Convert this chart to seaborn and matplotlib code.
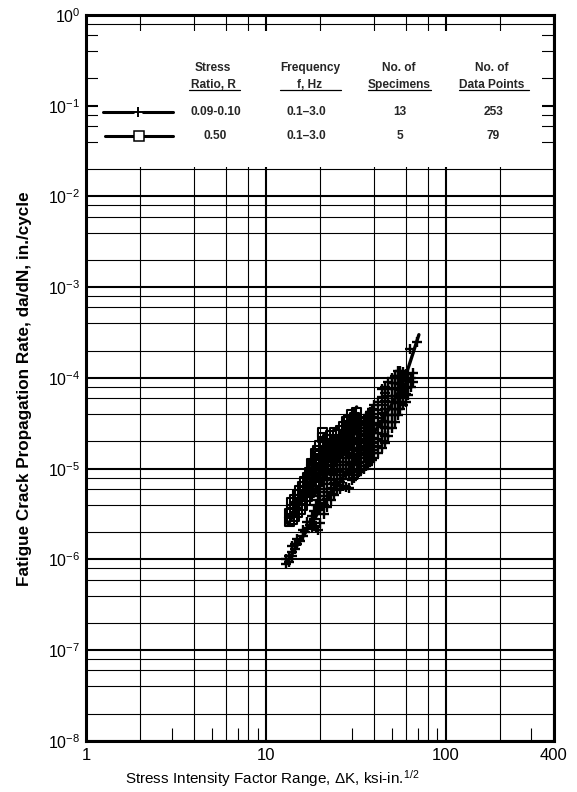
import matplotlib
matplotlib.use("Agg")
import matplotlib.pyplot as plt
import pandas as pd
import seaborn as sns
from matplotlib.patches import Rectangle
from matplotlib.lines import Line2D
from matplotlib.ticker import FixedLocator, FixedFormatter, NullFormatter, LogFormatterSciNotation

# R = 0.09-0.10 points (plus markers):
# one delta-K value and the crack rates plotted at it
k_r01 = [13.0, 13.5, 14.0, 14.5, 15.0, 15.5, 16.0, 16.5, 17.0, 17.5,
         18.0, 18.5, 19.0, 19.5, 20.0, 21.0, 22.0, 23.0, 24.0, 25.0,
         26.0, 27.0, 28.0, 29.0, 30.0, 31.0, 32.0, 33.0, 34.0, 35.0,
         36.0, 37.0, 38.0, 39.0, 40.0, 42.0, 44.0, 46.0, 48.0, 50.0,
         52.0, 54.0, 56.0, 58.0, 60.0, 62.0, 63.0, 64.0, 66.0, 69.0]
rate_r01 = [
    [9.0e-7, 1.0e-6], [1.1e-6, 9.5e-7], [1.2e-6, 1.4e-6, 1.1e-6], [1.3e-6, 1.5e-6], [1.5e-6, 1.7e-6],
    [1.6e-6], [1.8e-6, 2.1e-6], [2.0e-6], [2.2e-6, 2.6e-6], [2.4e-6],
    [2.6e-6, 3.0e-6, 2.2e-6], [2.8e-6, 3.4e-6], [2.3e-6, 3.2e-6, 4.0e-6], [2.1e-6, 3.6e-6, 4.5e-6, 5.5e-6],
    [2.5e-6, 3.5e-6, 4.2e-6, 5.0e-6, 6.5e-6, 8.0e-6],
    [3.2e-6, 4.0e-6, 5.0e-6, 6.0e-6, 7.5e-6, 9.0e-6, 1.1e-5],
    [3.8e-6, 4.6e-6, 5.5e-6, 6.8e-6, 8.0e-6, 1.0e-5, 1.2e-5],
    [4.5e-6, 5.3e-6, 6.2e-6, 7.5e-6, 9.0e-6, 1.1e-5, 1.35e-5],
    [5.2e-6, 6.0e-6, 7.0e-6, 8.5e-6, 1.0e-5, 1.2e-5, 1.5e-5, 1.8e-5],
    [5.8e-6, 6.6e-6, 7.8e-6, 9.5e-6, 1.1e-5, 1.35e-5, 1.6e-5, 2.0e-5],
    [6.0e-6, 7.2e-6, 8.5e-6, 1.0e-5, 1.2e-5, 1.45e-5, 1.75e-5, 2.1e-5],
    [6.5e-6, 7.8e-6, 9.2e-6, 1.1e-5, 1.3e-5, 1.55e-5, 1.9e-5, 2.3e-5],
    [6.3e-6, 8.5e-6, 1.0e-5, 1.2e-5, 1.4e-5, 1.7e-5, 2.0e-5, 2.5e-5],
    [6.2e-6, 9.0e-6, 1.1e-5, 1.3e-5, 1.5e-5, 1.8e-5, 2.2e-5, 2.7e-5],
    [7.5e-6, 9.5e-6, 1.15e-5, 1.35e-5, 1.6e-5, 1.95e-5, 2.4e-5, 2.9e-5],
    [8.0e-6, 1.0e-5, 1.2e-5, 1.45e-5, 1.7e-5, 2.1e-5, 2.6e-5, 3.2e-5],
    [8.6e-6, 1.1e-5, 1.3e-5, 1.55e-5, 1.85e-5, 2.2e-5, 2.8e-5, 3.5e-5],
    [9.2e-6, 1.15e-5, 1.4e-5, 1.65e-5, 2.0e-5, 2.4e-5, 3.0e-5, 3.6e-5],
    [9.8e-6, 1.2e-5, 1.5e-5, 1.8e-5, 2.1e-5, 2.6e-5, 3.2e-5],
    [1.0e-5, 1.3e-5, 1.6e-5, 1.9e-5, 2.3e-5, 2.8e-5, 3.4e-5],
    [1.07e-5, 1.18e-5, 1.4e-5, 1.7e-5, 2.0e-5, 2.4e-5, 3.0e-5, 3.7e-5],
    [1.1e-5, 1.3e-5, 1.5e-5, 1.8e-5, 2.2e-5, 2.6e-5, 3.2e-5, 3.9e-5],
    [1.2e-5, 1.4e-5, 1.6e-5, 1.9e-5, 2.3e-5, 2.8e-5, 3.4e-5, 4.2e-5],
    [1.25e-5, 1.5e-5, 1.75e-5, 2.1e-5, 2.5e-5, 3.0e-5, 3.7e-5, 4.5e-5],
    [1.3e-5, 1.6e-5, 1.9e-5, 2.2e-5, 2.7e-5, 3.2e-5, 4.0e-5, 5.0e-5],
    [1.5e-5, 1.8e-5, 2.1e-5, 2.5e-5, 3.0e-5, 3.6e-5, 4.4e-5, 5.5e-5],
    [1.7e-5, 2.0e-5, 2.4e-5, 2.9e-5, 3.4e-5, 4.1e-5, 5.0e-5, 6.2e-5, 7.5e-5],
    [1.9e-5, 2.3e-5, 2.8e-5, 3.3e-5, 3.9e-5, 4.6e-5, 5.6e-5, 6.8e-5, 8.0e-5],
    [2.3e-5, 2.8e-5, 3.3e-5, 3.9e-5, 4.6e-5, 5.4e-5, 6.4e-5, 7.6e-5, 9.0e-5],
    [2.8e-5, 3.3e-5, 3.9e-5, 4.6e-5, 5.4e-5, 6.4e-5, 7.5e-5, 8.8e-5, 1.0e-4],
    [3.3e-5, 3.9e-5, 4.6e-5, 5.4e-5, 6.4e-5, 7.5e-5, 8.8e-5, 1.05e-4],
    [3.9e-5, 4.6e-5, 5.4e-5, 6.4e-5, 7.5e-5, 8.8e-5, 1.05e-4, 1.2e-4],
    [4.5e-5, 5.3e-5, 6.2e-5, 7.3e-5, 8.6e-5, 1.0e-4, 1.2e-4],
    [5.0e-5, 6.0e-5, 7.0e-5, 8.3e-5, 9.8e-5, 1.15e-4],
    [5.5e-5, 6.6e-5, 7.8e-5, 9.2e-5, 1.1e-4],
    [6.5e-5, 8.0e-5, 9.5e-5, 1.1e-4],
    [2.1e-4],
    [8.0e-5, 1.0e-4],
    [9.0e-5, 1.13e-4],
    [2.5e-4],
]

# R = 0.50 points (open squares), same layout
k_r05 = [13.5, 14.0, 14.5, 15.0, 15.5, 16.0, 16.5, 17.0, 17.5, 18.0,
         18.5, 19.0, 19.5, 20.0, 20.7, 21.0, 22.0, 23.0, 24.0, 25.0,
         26.0, 27.0, 28.0, 29.0, 30.0, 31.0, 32.0]
rate_r05 = [
    [2.6e-6, 3.2e-6], [2.8e-6, 3.5e-6, 4.2e-6], [3.0e-6, 3.8e-6, 4.6e-6], [3.3e-6, 4.2e-6, 5.2e-6],
    [3.6e-6, 4.6e-6, 5.8e-6], [4.0e-6, 5.0e-6, 6.4e-6], [4.5e-6, 5.6e-6, 7.2e-6], [5.0e-6, 6.3e-6, 8.0e-6],
    [5.5e-6, 7.0e-6, 9.0e-6], [6.0e-6, 7.8e-6, 1.0e-5, 1.15e-5], [6.5e-6, 8.5e-6, 1.1e-5],
    [7.2e-6, 9.3e-6, 1.2e-5, 1.45e-5], [8.0e-6, 1.0e-5, 1.3e-5, 1.6e-5], [8.5e-6, 1.1e-5, 1.4e-5, 1.8e-5],
    [2.5e-5, 2.2e-5], [9.5e-6, 1.2e-5, 1.55e-5, 1.9e-5], [1.05e-5, 1.35e-5, 1.7e-5, 2.1e-5],
    [1.2e-5, 1.5e-5, 1.9e-5, 2.3e-5], [1.35e-5, 1.7e-5, 2.1e-5, 2.5e-5], [1.5e-5, 1.9e-5, 2.4e-5],
    [1.7e-5, 2.1e-5, 2.6e-5], [1.9e-5, 2.4e-5, 2.9e-5], [2.1e-5, 2.7e-5, 3.3e-5],
    [2.4e-5, 3.0e-5, 3.5e-5], [2.7e-5, 3.3e-5, 3.9e-5], [3.0e-5, 3.7e-5], [3.4e-5, 4.1e-5],
]

# mean curves
fit_k_r01 = [13.0, 15.0, 19.4, 25.0, 32.0, 40.0, 47.0, 53.0, 58.0, 62.0, 66.0, 71.0]
fit_rate_r01 = [9.0e-7, 1.45e-6, 3.2e-6, 6.6e-6, 1.33e-5, 2.5e-5, 4.1e-5, 6.2e-5, 9.0e-5, 1.3e-4, 1.9e-4, 3.0e-4]
fit_k_r05 = [13.4, 32.0]
fit_rate_r05 = [2.5e-6, 4.8e-5]

# axis ticks / grid
x_major = [1, 10, 100, 400]
x_major_labels = ["1", "10", "100", "400"]
x_grid_minor = [2, 4, 6, 8, 20, 40, 60, 80, 200]
x_tick_odd = [3, 5, 7, 9, 30, 50, 70, 90, 300]
y_major = [10.0 ** e for e in range(-8, 1)]
y_grid_minor = [m * 10.0 ** e for e in range(-8, 0) for m in (2, 4, 6, 8)]

# legend table
header_top = ["Stress", "Frequency", "No. of", "No. of"]
header_bot = ["Ratio, R", "f, Hz", "Specimens", "Data Points"]
row_r01 = ["0.09-0.10", "0.1\u20133.0", "13", "253"]
row_r05 = ["0.50", "0.1\u20133.0", "5", "79"]


def to_frame(ks, rate_cols):
    rows = [(k, r) for k, col in zip(ks, rate_cols) for r in col]
    return pd.DataFrame(rows, columns=["K", "rate"])


sns.set_theme(style="white")
plt.rcParams["font.family"] = ["Liberation Sans", "DejaVu Sans"]
plt.rcParams["mathtext.fontset"] = "custom"
plt.rcParams["mathtext.rm"] = "Liberation Sans"
plt.rcParams["mathtext.it"] = "Liberation Sans:italic"
plt.rcParams["mathtext.bf"] = "Liberation Sans:bold"

fig = plt.figure(figsize=(5.77, 7.92), dpi=100)
ax = fig.add_axes([0.149, 0.0644, 0.811, 0.9167])

df01 = to_frame(k_r01, rate_r01)
df05 = to_frame(k_r05, rate_r05)

sns.scatterplot(data=df01, x="K", y="rate", marker="+", s=60, color="black",
                linewidth=1.7, ax=ax, zorder=3)
sns.scatterplot(data=df05, x="K", y="rate", marker="s", s=45, color="black",
                facecolor="none", edgecolor="black", linewidth=1.5, ax=ax, zorder=3)
sns.lineplot(x=fit_k_r01, y=fit_rate_r01, color="black", lw=2.4, sort=False,
             estimator=None, ax=ax, zorder=4)
sns.lineplot(x=fit_k_r05, y=fit_rate_r05, color="black", lw=2.4, sort=False,
             estimator=None, ax=ax, zorder=4)

ax.set_xscale("log")
ax.set_yscale("log")
ax.set_xlim(1, 400)
ax.set_ylim(1e-8, 1)

ax.xaxis.set_major_locator(FixedLocator(x_major))
ax.xaxis.set_major_formatter(FixedFormatter(x_major_labels))
ax.xaxis.set_minor_locator(FixedLocator(x_grid_minor))
ax.xaxis.set_minor_formatter(NullFormatter())
ax.yaxis.set_major_locator(FixedLocator(y_major))
ax.yaxis.set_major_formatter(LogFormatterSciNotation())
ax.yaxis.set_minor_locator(FixedLocator(y_grid_minor))
ax.yaxis.set_minor_formatter(NullFormatter())

ax.set_axisbelow(True)
ax.grid(which="major", color="black", lw=1.5)
ax.grid(which="minor", color="black", lw=0.8)
ax.tick_params(which="both", length=0, colors="black")
ax.tick_params(axis="x", pad=5, labelsize=12)
ax.tick_params(axis="y", pad=4, labelsize=11.5)

# short ticks along the bottom edge
ax.vlines(x_tick_odd, 0, 0.018, transform=ax.get_xaxis_transform(),
          color="black", lw=0.8, zorder=1.5)

for side in ax.spines.values():
    side.set_linewidth(2.2)
    side.set_color("black")
    side.set_zorder(5)

# white panel holding the legend table
ax.add_patch(Rectangle((0.0256, 0.7906), 0.9488, 0.1874, transform=ax.transAxes,
                       facecolor="white", edgecolor="none", zorder=1))

tkw = dict(transform=ax.transAxes, fontsize=8.6, fontweight="bold", va="center", zorder=6)
head_x = [0.272, 0.4786, 0.6688, 0.8675]
row_x = [0.277, 0.470, 0.670, 0.871]
under = [(0.2201, 0.3291), (0.4145, 0.5449), (0.6026, 0.7372), (0.797, 0.9466)]
for i in range(4):
    ax.text(head_x[i], 0.927, header_top[i], ha="center", **tkw)
    ax.text(head_x[i], 0.9036, header_bot[i], ha="center", **tkw)
    ax.add_line(Line2D(under[i], [0.8967, 0.8967], transform=ax.transAxes,
                       color="black", lw=0.9, zorder=6))
    ax.text(row_x[i], 0.8664, row_r01[i], ha="center", **tkw)
    ax.text(row_x[i], 0.8333, row_r05[i], ha="center", **tkw)

# legend glyphs
ax.add_line(Line2D([0.0363, 0.1004], [0.8664, 0.8664], transform=ax.transAxes, color="black", lw=2.2, zorder=6))
ax.add_line(Line2D([0.1218, 0.1859], [0.8664, 0.8664], transform=ax.transAxes, color="black", lw=2.2, zorder=6))
ax.add_line(Line2D([0.1111], [0.8664], transform=ax.transAxes, marker="+", ms=7, mew=1.4,
                   color="black", lw=0, zorder=6))
ax.add_line(Line2D([0.0406, 0.1859], [0.8333, 0.8333], transform=ax.transAxes, color="black", lw=2.2, zorder=6))
ax.add_line(Line2D([0.1132], [0.8333], transform=ax.transAxes, marker="s", ms=6.5, mew=1.1,
                   mfc="white", mec="black", lw=0, zorder=7))

ax.set_ylabel("Fatigue Crack Propagation Rate, da/dN, in./cycle", fontsize=12.3,
              fontweight="bold", color="black")
ax.yaxis.set_label_coords(-0.115, 0.4855)
ax.set_xlabel("Stress Intensity Factor Range, $\\Delta$K, ksi-in.$^{1/2}$", fontsize=11,
              color="black")
ax.xaxis.set_label_coords(0.397, -0.037)

fig.savefig("out.png", dpi=100, facecolor="white")
